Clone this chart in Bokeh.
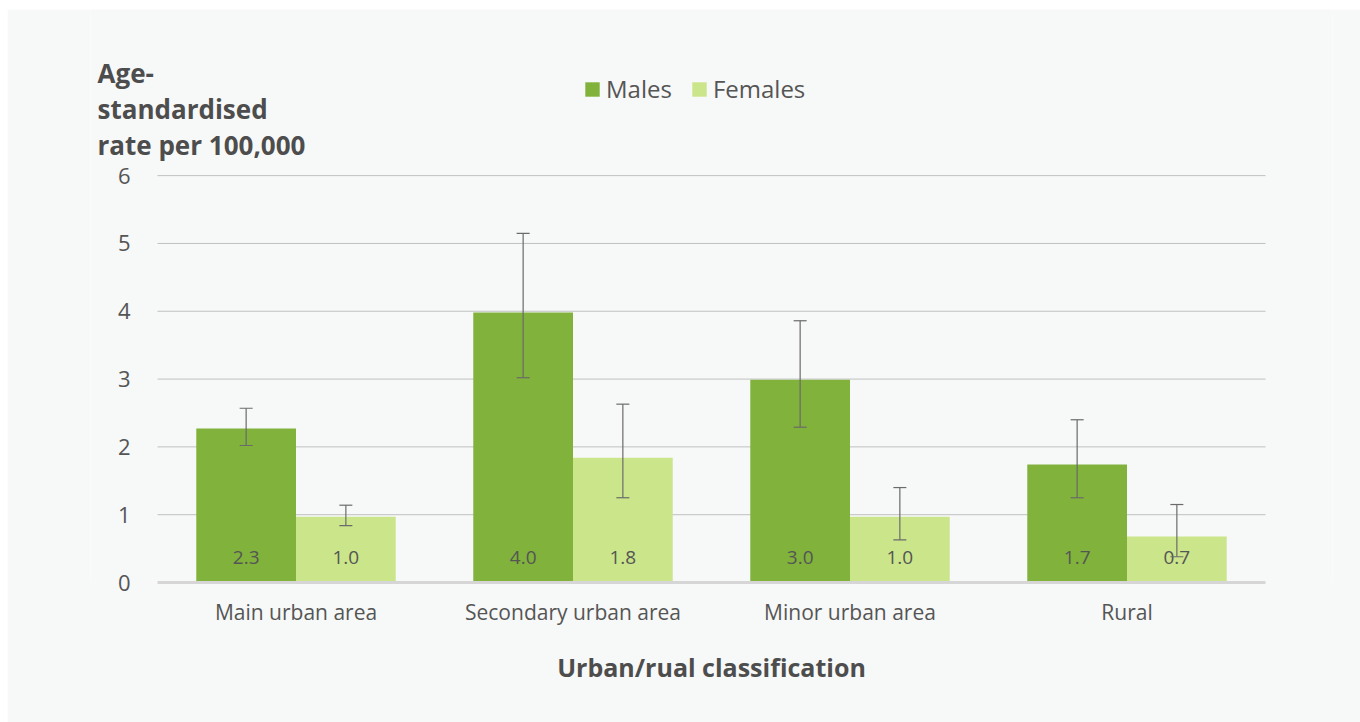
from bokeh.plotting import figure
from bokeh.models import (ColumnDataSource, FactorRange, Range1d, Whisker, Label,
                          Legend, LegendItem, TeeHead, FixedTicker)
from bokeh.transform import dodge
from bokeh.core.properties import value
from bokeh.embed import file_html
from bokeh.resources import INLINE

categories = ["Main urban area", "Secondary urban area", "Minor urban area", "Rural"]
males = [2.27, 3.98, 2.99, 1.74]
females = [0.97, 1.84, 0.97, 0.68]
males_text = ["2.3", "4.0", "3.0", "1.7"]
females_text = ["1.0", "1.8", "1.0", "0.7"]
males_upper = [2.57, 5.15, 3.86, 2.40]
males_lower = [2.02, 3.02, 2.29, 1.25]
females_upper = [1.14, 2.63, 1.40, 1.15]
females_lower = [0.84, 1.25, 0.63, 0.38]
y_ticks = [0, 1, 2, 3, 4, 5, 6]
y_title = ["Age-", "standardised", "rate per 100,000"]

FONT = "Open Sans"
BG = "#f7f8f8"
TXT = "#555555"
TITLE_C = "#4d4d4d"
MALE_C = "#80b23c"
FEMALE_C = "#cbe58a"
ERR_C = "#6b6b6b"
GRID_C = "#c0c0c0"

PAGE_W, PAGE_H = 1360, 722
M_TOP, M_LEFT = 9, 7                       # white strip around the grey panel
W_FIG, H_FIG = PAGE_W - M_LEFT, PAGE_H - M_TOP
FRAME_X, FRAME_Y = 90, 9                   # frame top-left on the page
FRAME_W, FRAME_H = 1242, 573
LEFT, TOP = FRAME_X - M_LEFT, FRAME_Y - M_TOP
PAD = 67 / 277.0          # extra synthetic room either side of the 4 categories
Y_MAX = 8.45               # extra room above 6 for legend / y title (no ticks there)

src = ColumnDataSource(dict(cat=categories, m=males, f=females, mt=males_text, ft=females_text,
                            mu=males_upper, ml=males_lower, fu=females_upper, fl=females_lower))
grid_src = ColumnDataSource(dict(y=y_ticks[1:], x0=[0] * (len(y_ticks) - 1),
                                 x1=[len(categories)] * (len(y_ticks) - 1)))

p = figure(x_range=FactorRange(*categories, range_padding=PAD, range_padding_units="absolute"),
           y_range=Range1d(0, Y_MAX),
           width=W_FIG, height=H_FIG, output_backend="svg", toolbar_location=None,
           min_border_left=LEFT, min_border_right=W_FIG - LEFT - FRAME_W,
           min_border_top=TOP, min_border_bottom=H_FIG - TOP - FRAME_H,
           background_fill_color=BG, border_fill_color=BG, outline_line_color=None)
p.margin = (M_TOP, 0, 0, M_LEFT)

# horizontal gridlines limited to the category span
p.segment(x0="x0", x1="x1", y0="y", y1="y", source=grid_src, line_color=GRID_C, line_width=1)

OFF = 0.18
W = 0.36
rm = p.vbar(x=dodge("cat", -OFF, range=p.x_range), top="m", width=W, source=src,
            fill_color=MALE_C, line_color=None)
rf = p.vbar(x=dodge("cat", OFF, range=p.x_range), top="f", width=W, source=src,
            fill_color=FEMALE_C, line_color=None)

p.text(x=dodge("cat", -OFF, range=p.x_range), y=0.37, text="mt", source=src,
       text_align="center", text_baseline="middle", text_font=value(FONT),
       text_font_size="19px", text_color=TXT)
p.text(x=dodge("cat", OFF, range=p.x_range), y=0.37, text="ft", source=src,
       text_align="center", text_baseline="middle", text_font=value(FONT),
       text_font_size="19px", text_color=TXT)

for off, up, lo in [(-OFF, "mu", "ml"), (OFF, "fu", "fl")]:
    wk = Whisker(source=src, base=dodge("cat", off, range=p.x_range), upper=up, lower=lo,
                 line_color=ERR_C, line_width=1.2,
                 upper_head=TeeHead(size=13, line_color=ERR_C, line_width=1.2),
                 lower_head=TeeHead(size=13, line_color=ERR_C, line_width=1.2))
    wk.level = "annotation"
    p.add_layout(wk)

p.xgrid.grid_line_color = None
p.ygrid.grid_line_color = None
p.yaxis.ticker = FixedTicker(ticks=y_ticks)

p.yaxis.axis_line_color = None
p.yaxis.major_tick_line_color = None
p.yaxis.minor_tick_line_color = None
p.yaxis.major_label_text_font = FONT
p.yaxis.major_label_text_font_size = "22px"
p.yaxis.major_label_text_color = TXT
p.yaxis.major_label_standoff = -46

p.xaxis.bounds = (0, len(categories))
p.xaxis.axis_line_color = "#d6d6d6"
p.xaxis.axis_line_width = 3
p.xaxis.major_tick_line_color = None
p.xaxis.minor_tick_line_color = None
p.xaxis.major_label_text_font = FONT
p.xaxis.major_label_text_font_size = "21px"
p.xaxis.major_label_text_color = TXT
p.xaxis.major_label_standoff = 9
p.xaxis.axis_label = "Urban/rual classification"
p.xaxis.axis_label_text_font = FONT
p.xaxis.axis_label_text_font_size = "25px"
p.xaxis.axis_label_text_font_style = "bold"
p.xaxis.axis_label_text_color = TITLE_C
p.xaxis.axis_label_standoff = 21

frame_bottom = FRAME_Y + FRAME_H
for i, line in enumerate(y_title):
    baseline = 72 + i * 36
    p.add_layout(Label(x=97 - FRAME_X, y=frame_bottom - baseline, x_units="screen", y_units="screen",
                       text=line, text_font=FONT, text_font_size="26px",
                       text_font_style="bold", text_color=TITLE_C,
                       text_baseline="alphabetic"))

legend = Legend(items=[LegendItem(label="Males", renderers=[rm]),
                       LegendItem(label="Females", renderers=[rf])],
                location=(583 - FRAME_X, frame_bottom - 105), orientation="horizontal",
                background_fill_alpha=0, border_line_color=None,
                glyph_width=18, glyph_height=18, label_standoff=5, spacing=18,
                padding=0, margin=0,
                label_text_font=FONT, label_text_font_size="24px", label_text_color=TXT)
p.add_layout(legend, "center")

open("out.html", "w").write(file_html(p, INLINE))
